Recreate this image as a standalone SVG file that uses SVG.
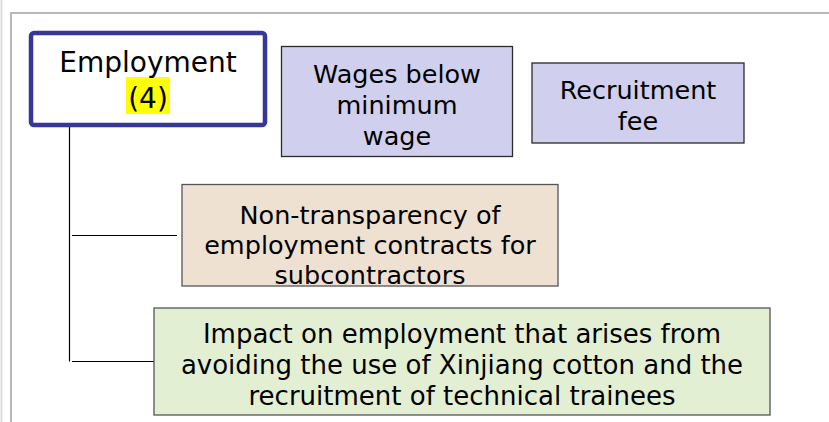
<svg xmlns="http://www.w3.org/2000/svg" width="829" height="422" viewBox="0 0 829 422">
<style>
text{font-family:"DejaVu Sans","Liberation Sans",sans-serif;fill:#000;text-anchor:middle}
.t{font-size:25.5px}
.g{font-size:26px}
.box{stroke:#2a2a2a;stroke-width:1.3}
.lav{fill:#d0d0ee}
.beige{fill:#efe1d1;stroke:#555}
.green{fill:#e3efd3;stroke:#555}
.con{stroke:#000;stroke-width:1.2;fill:none}
</style>
<rect width="829" height="422" fill="#fff"/>
<g id="frame">
<line x1="1.5" y1="0" x2="1.5" y2="422" stroke="#dcdcdc" stroke-width="2"/>
<path d="M11 422 V13 H829" fill="none" stroke="#b8b8b8" stroke-width="2"/>
</g>
<g id="connectors">
<line class="con" x1="69.5" y1="127" x2="69.5" y2="361.5"/>
<line class="con" x1="72" y1="235.5" x2="177" y2="235.5"/>
<line class="con" x1="72" y1="361.5" x2="154" y2="361.5"/>
</g>
<g id="employment">
<rect x="31" y="33" width="234" height="92" rx="3" fill="#fff" stroke="#37379a" stroke-width="4.5"/>
<rect x="126" y="77" width="44" height="37" fill="#ffff00"/>
<text x="148" y="72" style="font-size:28px">Employment</text>
<text x="148" y="108" style="font-size:28px">(4)</text>
</g>
<g id="wages">
<rect class="box lav" x="281.5" y="46.5" width="231" height="110"/>
<text class="t" x="397" y="83">Wages below</text>
<text class="t" x="397" y="114">minimum</text>
<text class="t" x="397" y="145">wage</text>
</g>
<g id="recruitment">
<rect class="box lav" x="532" y="63" width="212" height="80"/>
<text class="t" x="638" y="98.5">Recruitment</text>
<text class="t" x="638" y="130">fee</text>
</g>
<g id="nontransparency">
<rect class="box beige" x="182" y="184.5" width="376" height="101.5"/>
<text class="t" x="370" y="224">Non-transparency of</text>
<text class="t" x="370" y="254">employment contracts for</text>
<text class="t" x="370" y="284">subcontractors</text>
</g>
<g id="impact">
<rect class="box green" x="154" y="308" width="616" height="107"/>
<text class="g" x="462" y="343">Impact on employment that arises from</text>
<text class="g" x="462" y="374">avoiding the use of Xinjiang cotton and the</text>
<text class="g" x="462" y="405">recruitment of technical trainees</text>
</g>
</svg>
